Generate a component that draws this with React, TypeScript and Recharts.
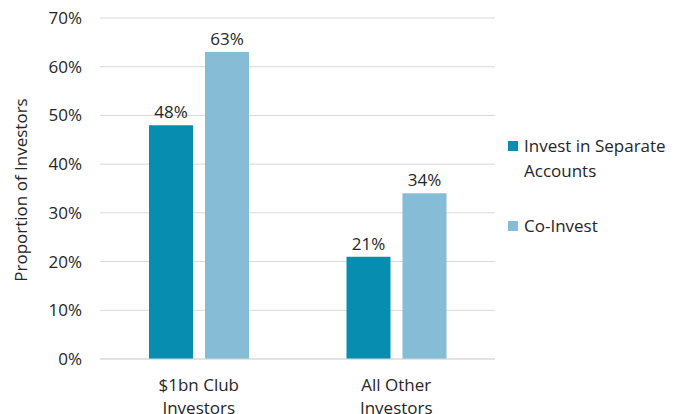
import { Bar, BarChart, CartesianGrid, LabelList, XAxis, YAxis } from "recharts";

const categories = ["$1bn Club Investors", "All Other Investors"];
const separateAccounts = [48, 21];
const coInvest = [63, 34];
const yTicks = [0, 10, 20, 30, 40, 50, 60, 70];

const SEP_COLOR = "#068db0";
const CO_COLOR = "#86bcd5";
const TEXT = "#262626";
const FONT = "'Open Sans', sans-serif";
const FS = 17;

const data = categories.map((name, i) => ({
  name,
  separate: separateAccounts[i],
  co: coInvest[i],
}));

function CategoryTick({ x, y, payload }: any) {
  const label: string = payload.value;
  const cut = label.lastIndexOf(" ");
  const lines = [label.slice(0, cut), label.slice(cut + 1)];
  return (
    <text x={x} y={y} textAnchor="middle" fill={TEXT} fontSize={FS} fontFamily={FONT}>
      {lines.map((line, i) => (
        <tspan key={i} x={x} dy={i === 0 ? 32 : 23}>
          {line}
        </tspan>
      ))}
    </text>
  );
}

function LegendBox() {
  const items = [
    { color: SEP_COLOR, lines: ["Invest in Separate", "Accounts"] },
    { color: CO_COLOR, lines: ["Co-Invest"] },
  ];
  return (
    <div style={{ position: "absolute", left: 508, top: 133, fontFamily: FONT, fontSize: FS, color: TEXT }}>
      {items.map((it, i) => (
        <div key={i} style={{ display: "flex", alignItems: "flex-start", marginBottom: i === 0 ? 30 : 0 }}>
          <span style={{ width: 10, height: 10, background: it.color, marginTop: 8, marginRight: 6, flexShrink: 0 }} />
          <span style={{ lineHeight: "25px" }}>
            {it.lines.map((l, j) => (
              <div key={j}>{l}</div>
            ))}
          </span>
        </div>
      ))}
    </div>
  );
}

function YLabel() {
  return (
    <text
      x={20}
      y={190}
      transform="rotate(-90, 20, 190)"
      textAnchor="middle"
      dominantBaseline="central"
      fill={TEXT}
      fontSize={FS}
      fontFamily={FONT}
    >
      Proportion of Investors
    </text>
  );
}

export default function App() {
  return (
    <div style={{ position: "absolute", left: 0, top: 0, width: 688, height: 414, background: "#fff", overflow: "hidden" }}>
      <BarChart
        width={688}
        height={414}
        data={data}
        margin={{ top: 18, right: 193, left: 0, bottom: 0 }}
        barSize={44}
        barGap={12}
      >
        <CartesianGrid vertical={false} stroke="#d9d9d9" />
        <XAxis
          dataKey="name"
          tick={<CategoryTick />}
          tickLine={false}
          axisLine={{ stroke: "#d9d9d9" }}
          interval={0}
          height={55}
          tickSize={0}
          tickMargin={0}
        />
        <YAxis
          width={100}
          domain={[0, 70]}
          ticks={yTicks}
          tickFormatter={(v) => `${v}%`}
          tick={{ fill: TEXT, fontSize: FS, fontFamily: FONT }}
          tickLine={false}
          axisLine={false}
          tickSize={0}
          tickMargin={18}
          label={{ content: <YLabel /> }}
        />
        <Bar dataKey="separate" name="Invest in Separate Accounts" fill={SEP_COLOR} isAnimationActive={false}>
          <LabelList dataKey="separate" position="top" offset={7} formatter={(v: any) => `${v}%`} fill={TEXT} fontSize={FS} fontFamily={FONT} />
        </Bar>
        <Bar dataKey="co" name="Co-Invest" fill={CO_COLOR} isAnimationActive={false}>
          <LabelList dataKey="co" position="top" offset={7} formatter={(v: any) => `${v}%`} fill={TEXT} fontSize={FS} fontFamily={FONT} />
        </Bar>
      </BarChart>
      <LegendBox />
    </div>
  );
}
